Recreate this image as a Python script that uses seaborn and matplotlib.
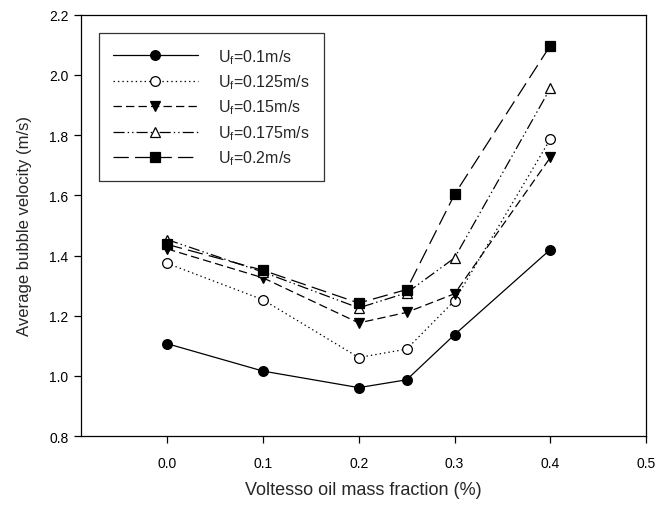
import matplotlib
matplotlib.use("Agg")
import matplotlib.pyplot as plt
import seaborn as sns
import pandas as pd

# Oil mass fraction (%) at which bubble velocity was measured
fraction = [0.0, 0.1, 0.2, 0.25, 0.3, 0.4]

# Average bubble velocity (m/s) for each superficial velocity U_f
v_010 = [1.107, 1.016, 0.961, 0.987, 1.137, 1.420]
v_0125 = [1.374, 1.253, 1.061, 1.089, 1.250, 1.787]
v_015 = [1.422, 1.326, 1.176, 1.211, 1.273, 1.726]
v_0175 = [1.453, 1.345, 1.226, 1.276, 1.392, 1.956]
v_020 = [1.437, 1.351, 1.242, 1.287, 1.603, 2.098]

labels = [r"U$_\mathrm{f}$=0.1m/s", r"U$_\mathrm{f}$=0.125m/s",
          r"U$_\mathrm{f}$=0.15m/s", r"U$_\mathrm{f}$=0.175m/s",
          r"U$_\mathrm{f}$=0.2m/s"]
series = [v_010, v_0125, v_015, v_0175, v_020]

sns.set_theme(style="ticks")
plt.rcParams["font.family"] = ["Liberation Sans", "DejaVu Sans"]
plt.rcParams["mathtext.fontset"] = "custom"
plt.rcParams["mathtext.rm"] = "Liberation Sans"
plt.rcParams["mathtext.it"] = "Liberation Sans:italic"
plt.rcParams["lines.scale_dashes"] = False

styles = [
    dict(linestyle="-", marker="o", mfc="black"),
    dict(linestyle=(0, (1.0, 2.2)), marker="o", mfc="white"),
    dict(linestyle=(0, (6, 3)), marker="v", mfc="black"),
    dict(linestyle=(0, (8, 2.2, 1, 2.2, 1, 2.2)), marker="^", mfc="white"),
    dict(linestyle=(0, (11, 4.5)), marker="s", mfc="black"),
]

fig = plt.figure(figsize=(6.58, 5.10), dpi=100)
ax = fig.add_axes([0.123, 0.143, 0.859, 0.826])

for vals, lab, st in zip(series, labels, styles):
    df = pd.DataFrame({"fraction": fraction, "velocity": vals})
    sns.lineplot(data=df, x="fraction", y="velocity", ax=ax, color="black",
                 lw=0.9, linestyle=st["linestyle"], marker=st["marker"],
                 ms=7 if st["marker"] != "s" else 6.5, mfc=st["mfc"],
                 mec="black", mew=0.9, label=lab, legend=False)

ax.set_xlim(-0.09, 0.5)
ax.set_ylim(0.8, 2.2)
ax.set_xticks([0.0, 0.1, 0.2, 0.3, 0.4, 0.5])
ax.set_yticks([0.8, 1.0, 1.2, 1.4, 1.6, 1.8, 2.0, 2.2])
ax.xaxis.set_major_formatter(matplotlib.ticker.FormatStrFormatter("%.1f"))
ax.yaxis.set_major_formatter(matplotlib.ticker.FormatStrFormatter("%.1f"))
ax.tick_params(direction="out", length=5, width=0.9, labelsize=10,
               colors="black", pad=4)
ax.tick_params(axis="x", pad=9)
for sp in ax.spines.values():
    sp.set_color("black")
    sp.set_linewidth(0.9)

ax.set_xlabel("Voltesso oil mass fraction (%)", fontsize=13, labelpad=8)
ax.set_ylabel("Average bubble velocity (m/s)", fontsize=12, labelpad=12)

leg = ax.legend(loc="upper left", bbox_to_anchor=(0.032, 0.957),
                fontsize=11.5, handlelength=5.3, numpoints=1,
                fancybox=False, frameon=True, borderpad=0.88,
                labelspacing=0.42, handletextpad=1.3, borderaxespad=0)
leg.get_frame().set_edgecolor("black")
leg.get_frame().set_linewidth(0.9)

fig.savefig("out.png", dpi=100)
